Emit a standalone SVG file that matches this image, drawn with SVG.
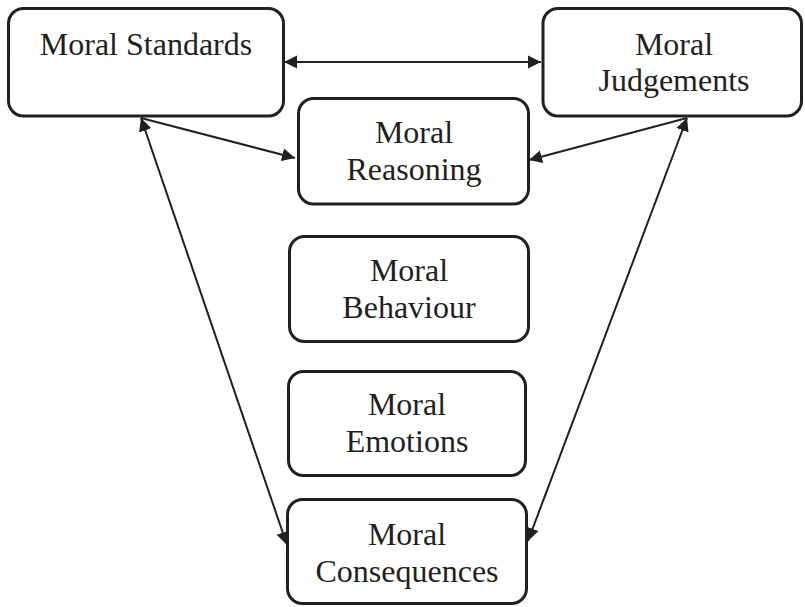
<svg xmlns="http://www.w3.org/2000/svg" width="805" height="607" viewBox="0 0 805 607">
<style>
.box{fill:#fff;stroke:#231f20;stroke-width:3}
.lbl{font-family:"Liberation Serif","Times New Roman",serif;font-size:32px;fill:#231f20;text-anchor:middle}
.con{stroke:#231f20;stroke-width:2;fill:none}
</style>
<defs>
<marker id="ah" markerUnits="userSpaceOnUse" markerWidth="14" markerHeight="14" refX="13" refY="7" orient="auto-start-reverse">
<path d="M0,0.5 L13,7 L0,13.5 z" fill="#231f20"/>
</marker>
</defs>
<rect width="805" height="607" fill="#fff"/>
<g id="connectors">
<line class="con" x1="284" y1="62" x2="541" y2="62" marker-start="url(#ah)" marker-end="url(#ah)"/>
<line class="con" x1="141" y1="118" x2="295" y2="158" marker-end="url(#ah)"/>
<line class="con" x1="687" y1="118" x2="529" y2="160" marker-end="url(#ah)"/>
<line class="con" x1="141" y1="118" x2="287" y2="545" marker-start="url(#ah)" marker-end="url(#ah)"/>
<line class="con" x1="687" y1="118" x2="528" y2="541" marker-start="url(#ah)" marker-end="url(#ah)"/>
</g>
<g id="standards">
<rect class="box" x="8.5" y="8.5" width="275" height="107.5" rx="15"/>
<text class="lbl" x="146" y="55">Moral Standards</text>
</g>
<g id="judgements">
<rect class="box" x="543" y="8.5" width="258.5" height="107.5" rx="15"/>
<text class="lbl" x="674" y="55">Moral</text>
<text class="lbl" x="674" y="91">Judgements</text>
</g>
<g id="reasoning">
<rect class="box" x="298.5" y="98.5" width="230" height="105.5" rx="15"/>
<text class="lbl" x="414" y="143">Moral</text>
<text class="lbl" x="414" y="180">Reasoning</text>
</g>
<g id="behaviour">
<rect class="box" x="289.5" y="236.5" width="239" height="105" rx="15"/>
<text class="lbl" x="409" y="281">Moral</text>
<text class="lbl" x="409" y="318">Behaviour</text>
</g>
<g id="emotions">
<rect class="box" x="288.5" y="371.5" width="237" height="104" rx="15"/>
<text class="lbl" x="407" y="415">Moral</text>
<text class="lbl" x="407" y="452">Emotions</text>
</g>
<g id="consequences">
<rect class="box" x="287.5" y="499.5" width="239" height="104" rx="15"/>
<text class="lbl" x="407" y="545">Moral</text>
<text class="lbl" x="407" y="582">Consequences</text>
</g>
</svg>
